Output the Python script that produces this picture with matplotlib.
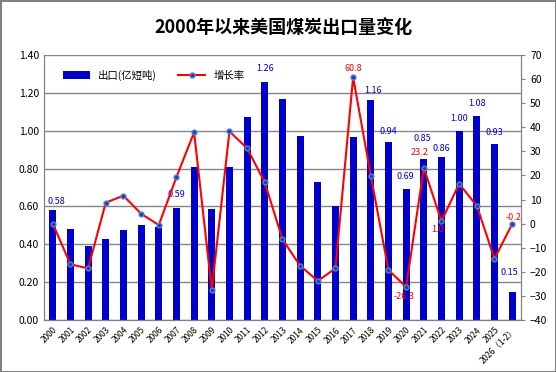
import matplotlib.pyplot as plt
import numpy as np

plt.rcParams['font.family'] = ['Noto Sans CJK SC', 'DejaVu Sans']

# data
years = ['2000', '2001', '2002', '2003', '2004', '2005', '2006', '2007', '2008', '2009',
         '2010', '2011', '2012', '2013', '2014', '2015', '2016', '2017', '2018', '2019',
         '2020', '2021', '2022', '2023', '2024', '2025', '2026\uff081-2\uff09']
exports = [0.58, 0.48, 0.39, 0.43, 0.475, 0.50, 0.49, 0.59, 0.81, 0.586,
           0.81, 1.07, 1.26, 1.17, 0.97, 0.73, 0.60, 0.967, 1.16, 0.94,
           0.69, 0.85, 0.86, 1.00, 1.08, 0.93, 0.15]
growth = [0.0, -16.9, -18.6, 8.7, 11.6, 4.1, -0.6, 19.3, 37.9, -27.6,
          38.3, 31.3, 17.1, -6.5, -17.5, -23.8, -18.6, 60.8, 19.9, -19.3,
          -26.3, 23.2, 1.0, 16.5, 7.4, -14.6, -0.2]

bar_labels = {0: '0.58', 7: '0.59', 12: '1.26', 18: '1.16', 19: '0.94', 20: '0.69',
              21: '0.85', 22: '0.86', 23: '1.00', 24: '1.08', 25: '0.93', 26: '0.15'}
rate_labels = {17: '60.8', 21: '23.2', 22: '1.0', 20: '-26.3', 26: '-0.2'}

# label offsets in pixels (dx, dy up) from the mark
bar_off = {0: (4, 9), 7: (0, 14), 12: (0, 13), 18: (2, 10), 19: (0, 11), 20: (-1, 13),
           21: (-1, 21), 22: (0, 9), 23: (0, 12), 24: (0, 12), 25: (0, 11), 26: (-3, 19)}
rate_off = {17: (0, 9), 21: (-4, 15), 22: (-4, -8), 20: (-2, -10), 26: (1, 7)}

fig = plt.figure(figsize=(5.56, 3.72), dpi=100)
fig.patch.set_edgecolor('#808080')
fig.patch.set_linewidth(2)
ax = fig.add_axes([0.079, 0.140, 0.858, 0.712])
ax2 = ax.twinx()

x = np.arange(len(years))
ax.bar(x, exports, width=0.4, color='#0000cc', label='出口(亿短吨)', zorder=2)
ax.set_ylim(0, 1.4)
ax.set_yticks(np.arange(0, 1.41, 0.2))
ax.set_yticklabels(['%.2f' % v for v in np.arange(0, 1.41, 0.2)], fontsize=7.5)
ax.yaxis.grid(True, color='#868686', linewidth=1, zorder=0)
ax.set_axisbelow(True)
ax.set_xlim(-0.5, len(years) - 0.5)
ax.set_xticks(x)
ax.set_xticklabels(years, rotation=45, fontsize=6, ha='right', rotation_mode='anchor')
ax.tick_params(axis='x', length=0, pad=4)
ax.tick_params(axis='y', length=0)

ln, = ax2.plot(x, growth, color='red', linewidth=1.5, marker='o', markersize=3.5,
               markerfacecolor='#1a3fb0', markeredgecolor='#5a7fd0', label='增长率', zorder=3)
ax2.set_ylim(-40, 70)
ax2.set_yticks(range(-40, 71, 10))
ax2.tick_params(axis='y', labelsize=7.5, length=3, color='#808080')

ax.spines['top'].set_visible(False)
ax2.spines['top'].set_visible(False)
for a in (ax, ax2):
    for s in ['left', 'right', 'bottom']:
        a.spines[s].set_color('#808080')

px = 0.72  # points per pixel at 100 dpi

for i, t in bar_labels.items():
    dx, dy = bar_off[i]
    ax.annotate(t, (x[i], exports[i]), xytext=(dx * px, dy * px), textcoords='offset points',
                color='#0000cc', fontsize=6.5, ha='center', va='center', zorder=5)

for i, t in rate_labels.items():
    dx, dy = rate_off[i]
    ax2.annotate(t, (x[i], growth[i]), xytext=(dx * px, dy * px), textcoords='offset points',
                 color='red', fontsize=6.5, ha='center', va='center', zorder=5)

h1, l1 = ax.get_legend_handles_labels()
ax.legend(h1 + [ln], l1 + ['增长率'], loc='upper left', bbox_to_anchor=(0.02, 0.98),
          ncol=2, frameon=False, fontsize=7.5, handlelength=2.6, columnspacing=2.0)

fig.text(0.51, 0.927, '2000年以来美国煤炭出口量变化', ha='center', va='center',
         fontsize=13, fontweight='bold')

fig.savefig('out.png', dpi=100)
